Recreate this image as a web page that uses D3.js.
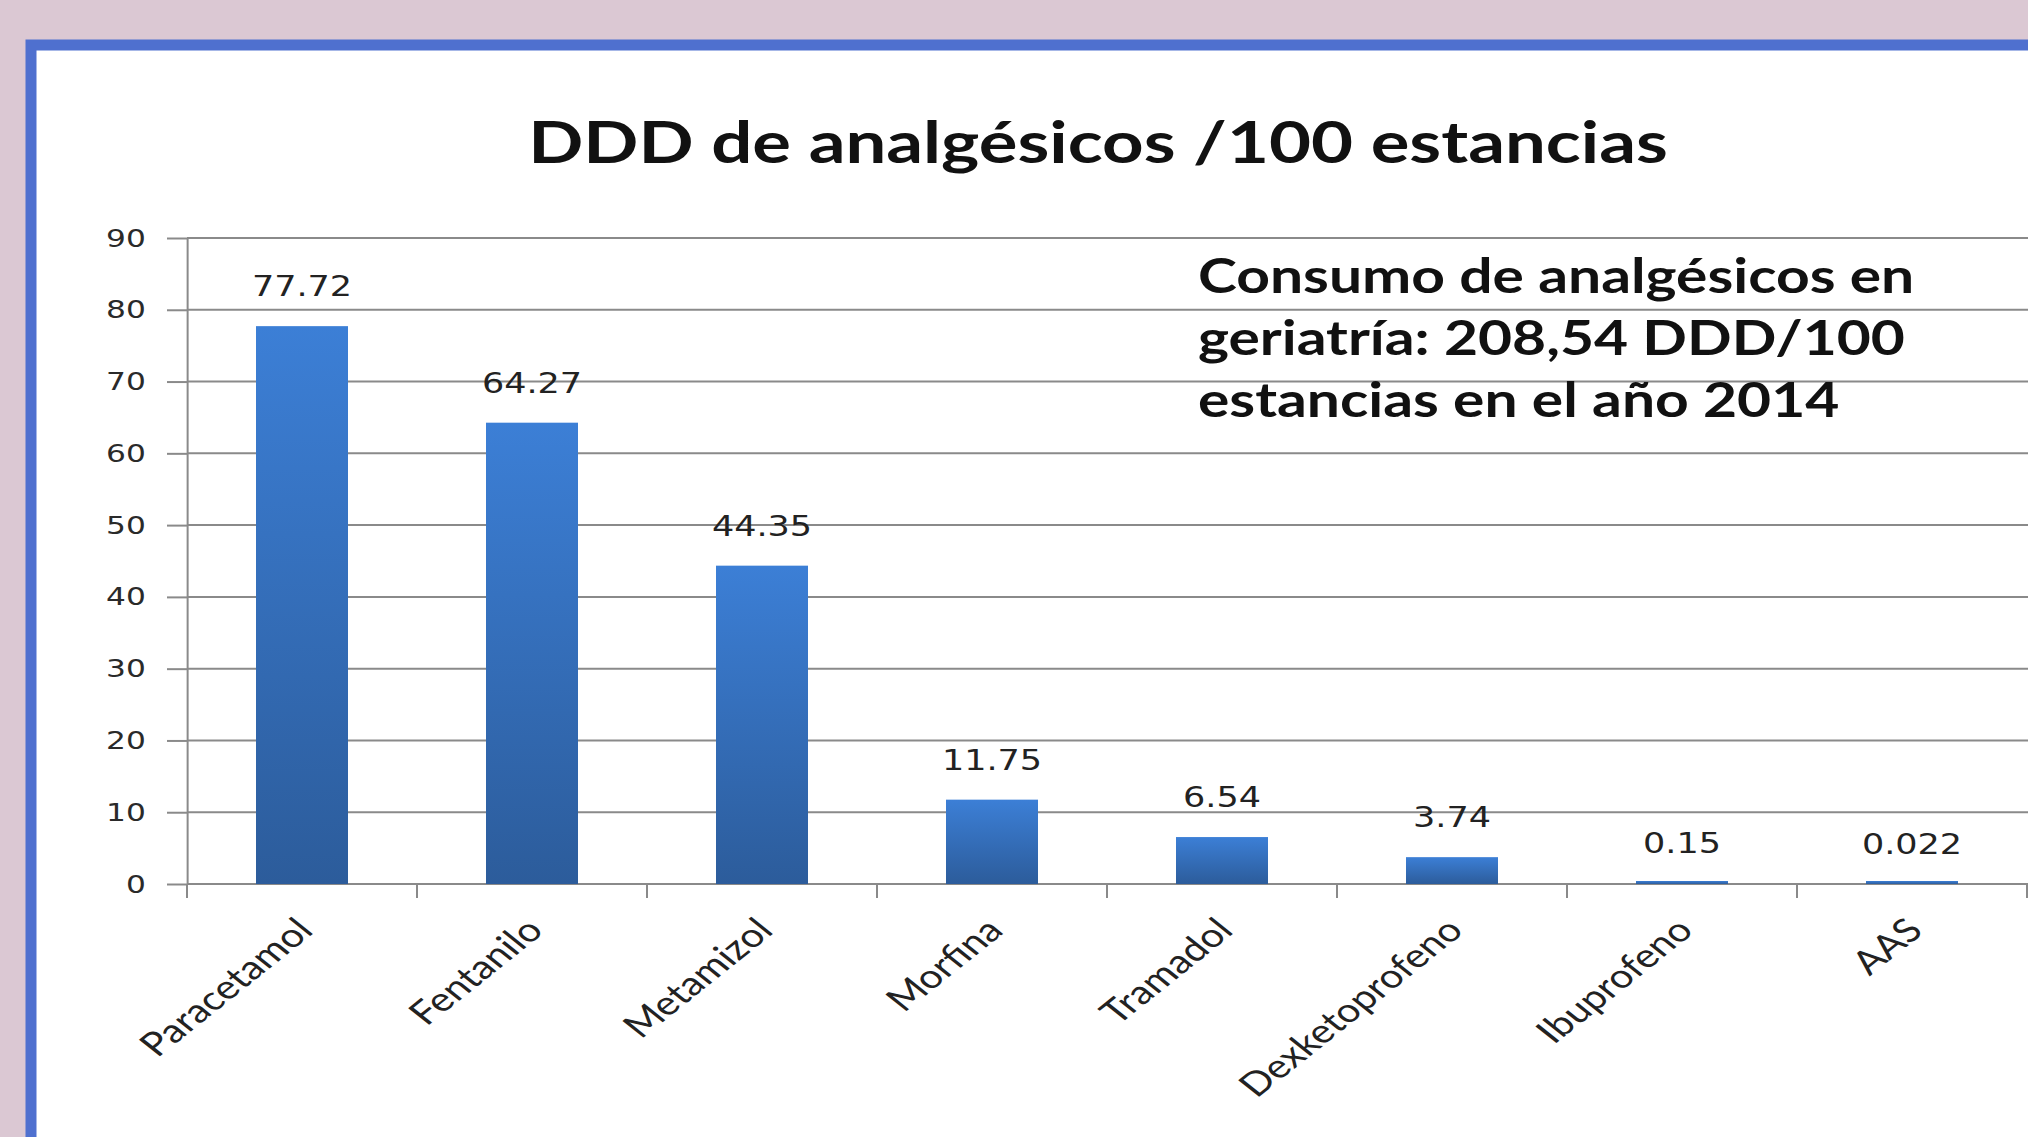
<!DOCTYPE html>
<html><head><meta charset="utf-8">
<script src="https://cdn.jsdelivr.net/npm/d3@7"></script>
<style>html,body{margin:0;padding:0;background:#dbc8d3;overflow:hidden}</style>
</head><body><svg id="c" width="2028" height="1137"></svg>
<script>
const categories = ["Paracetamol","Fentanilo","Metamizol","Morfina","Tramadol","Dexketoprofeno","Ibuprofeno","AAS"];
const values = [77.72,64.27,44.35,11.75,6.54,3.74,0.15,0.022];
const valueLabels = ["77.72","64.27","44.35","11.75","6.54","3.74","0.15","0.022"];
const yTicks = [0,10,20,30,40,50,60,70,80,90];
const title = "DDD de analgésicos /100 estancias";
const noteLines = ["Consumo de analgésicos en","geriatría: 208,54 DDD/100","estancias en el año 2014"];

const W = 2028, H = 1137, SX = 1.25;
const svg = d3.select("#c");
svg.append("rect").attr("width", W).attr("height", H).attr("fill", "#dbc8d3");
svg.append("rect").attr("x", 31).attr("y", 45).attr("width", W + 40).attr("height", H + 40)
  .attr("fill", "#fff").attr("stroke", "#4f70cf").attr("stroke-width", 11);

const defs = svg.append("defs");
const grad = defs.append("linearGradient").attr("id", "barg").attr("x1", 0).attr("y1", 0).attr("x2", 0).attr("y2", 1);
grad.append("stop").attr("offset", "0%").attr("stop-color", "#3c7fd6");
grad.append("stop").attr("offset", "100%").attr("stop-color", "#2c5c9b");

const g = svg.append("g").attr("transform", `scale(${SX},1)`);
const x0 = 187 / SX, x1 = 2027 / SX;
const x = d3.scaleBand().domain(categories).range([x0, x1]).paddingInner(0.6).paddingOuter(0.3);
const y = d3.scaleLinear().domain([0, 90]).range([884, 238]);

// gridlines
g.append("g").selectAll("line").data(yTicks).join("line")
  .attr("x1", x0).attr("x2", W / SX + 10)
  .attr("y1", d => y(d)).attr("y2", d => y(d))
  .attr("stroke", "#8a8a8a").attr("stroke-width", 2);

// y axis
const ya = g.append("g").attr("transform", `translate(${x0},0)`)
  .call(d3.axisLeft(y).tickValues(yTicks).tickSize(16).tickPadding(17).tickSizeOuter(0));
ya.select(".domain").attr("stroke", "#8a8a8a").attr("stroke-width", 1.6);
ya.selectAll(".tick line").attr("stroke", "#8a8a8a").attr("stroke-width", 2);
ya.selectAll(".tick text").attr("font-family", "DejaVu Sans").attr("font-size", 25)
  .attr("fill", "#2a2a2a");

// x ticks at band boundaries
const step = x.step();
const bounds = d3.range(categories.length + 1).map(i => x0 + i * step);
g.append("g").selectAll("line").data(bounds).join("line")
  .attr("x1", d => d).attr("x2", d => d).attr("y1", y(0)).attr("y2", y(0) + 14)
  .attr("stroke", "#8a8a8a").attr("stroke-width", 1.6);

// bars
g.append("g").selectAll("rect").data(values).join("rect")
  .attr("x", (d, i) => x(categories[i])).attr("width", x.bandwidth())
  .attr("y", d => Math.min(y(d), y(0) - 3)).attr("height", d => Math.max(3, y(0) - y(d)))
  .attr("fill", "url(#barg)");

// value labels
g.append("g").selectAll("text").data(values).join("text")
  .attr("x", (d, i) => x(categories[i]) + x.bandwidth() / 2)
  .attr("y", d => y(d) - 30)
  .attr("text-anchor", "middle").attr("font-family", "DejaVu Sans").attr("font-size", 28)
  .attr("fill", "#222").text((d, i) => valueLabels[i]);

// category labels
g.append("g").selectAll("text").data(categories).join("text")
  .attr("transform", d => `translate(${x(d) + x.bandwidth() / 2 - 6},${y(0) + 32}) rotate(-45)`)
  .attr("text-anchor", "end").attr("dy", "0.7em")
  .attr("font-family", "Lato").attr("font-size", 33).attr("fill", "#222").text(d => d);

// title
g.append("text").attr("x", 1098 / SX).attr("y", 163).attr("text-anchor", "middle")
  .attr("font-family", "Lato").attr("font-weight", "bold").attr("font-size", 58)
  .attr("fill", "#111").text(title);

// note
g.append("g").selectAll("text").data(noteLines).join("text")
  .attr("x", 1198 / SX).attr("y", (d, i) => 293 + i * 62)
  .attr("font-family", "Lato").attr("font-weight", "bold").attr("font-size", 47)
  .attr("fill", "#111").text(d => d);
</script></body></html>
